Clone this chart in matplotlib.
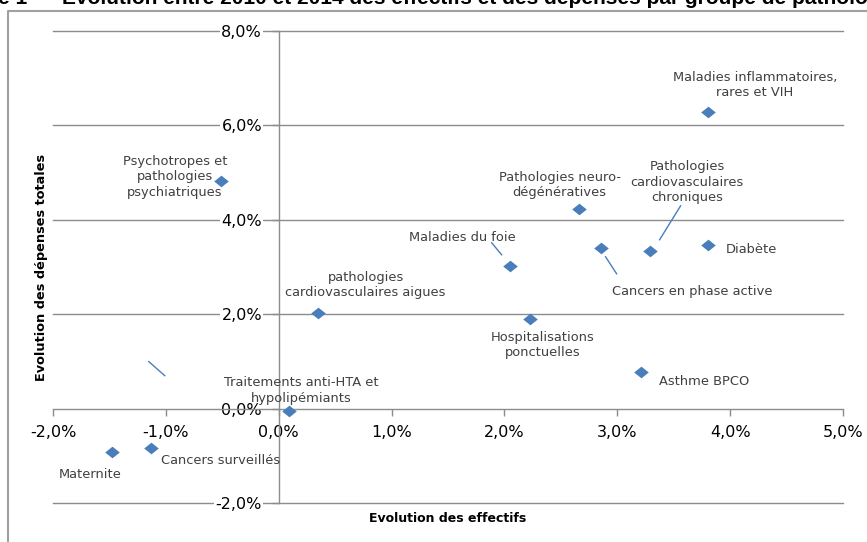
import matplotlib
matplotlib.use("Agg")
import matplotlib.pyplot as plt
import numpy as np

#######################################
#### Data
#######################################
groupes = ["Maladies inflammatoires,\nrares et VIH",
           "Psychotropes et\npathologies\npsychiatriques",
           "Pathologies neuro-\ndégénératives",
           "Pathologies\ncardiovasculaires\nchroniques",
           "Maladies du foie",
           "Diabète",
           "Cancers en phase active",
           "pathologies\ncardiovasculaires aigues",
           "Hospitalisations\nponctuelles",
           "Asthme BPCO",
           "Traitements anti-HTA et\nhypolipémiants",
           "Cancers surveillés",
           "Maternite"]
evol_effectifs = [3.80, -0.51, 2.66, 3.29, 2.05, 3.80, 2.86, 0.35, 2.23, 3.21, 0.09, -1.13, -1.48]
evol_depenses  = [6.29, 4.83, 4.23, 3.34, 3.03, 3.47, 3.41, 2.03, 1.90, 0.78, -0.06, -0.83, -0.91]
x_ticks = [-2, -1, 0, 1, 2, 3, 4, 5]
y_ticks = [-2, 0, 2, 4, 6, 8]

#######################################
#### Layout (label placement, leader lines)
#######################################
lbl_pos = [(4.22, 6.86, "center"), (-0.92, 4.91, "center"), (2.49, 4.74, "center"),
           (3.62, 4.80, "center"), (1.63, 3.62, "center"), (3.96, 3.37, "left"),
           (3.66, 2.48, "center"), (0.77, 2.62, "center"), (2.34, 1.35, "center"),
           (3.37, 0.57, "left"), (0.20, 0.38, "center"), (-1.045, -1.10, "left"),
           (-1.67, -1.40, "center")]
leaders = [((1.887, 1.975), (3.513, 3.259)),
           ((2.896, 2.994), (3.217, 2.857)),
           ((3.561, 3.375), (4.296, 3.577)),
           ((-1.151, -1.010), (0.995, 0.698))]

BLUE = "#4a7ebb"
GRID = "#8c8c8c"
FONT = "DejaVu Sans"

W, H = 867, 542
fig = plt.figure(figsize=(W/100, H/100), dpi=100)
ax = fig.add_axes([53/W, 1-503/H, (843-53)/W, (503-31)/H])
ax.set_xlim(-2, 5)
ax.set_ylim(-2, 8)

# gridlines
for yv in y_ticks:
   if yv != 0:
      ax.axhline(yv, color=GRID, lw=1.0, zorder=1, clip_on=False)

# axes through zero
for s in ["top", "right"]:
   ax.spines[s].set_visible(False)
ax.spines["left"].set_position(("data", 0))
ax.spines["bottom"].set_position(("data", 0))
for s in ["left", "bottom"]:
   ax.spines[s].set_color(GRID)
   ax.spines[s].set_linewidth(1.0)

ax.set_xticks(x_ticks)
ax.set_xticklabels([("%.1f%%" % v).replace(".", ",") for v in x_ticks])
ax.set_yticks(y_ticks)
ax.set_yticklabels([("%.1f%%" % v).replace(".", ",") for v in y_ticks])
ax.tick_params(axis="x", direction="out", length=5, color=GRID, width=1.0,
               labelsize=11.5, pad=7)
ax.tick_params(axis="y", direction="out", length=5, color=GRID, width=1.0,
               labelsize=11.5, pad=7)
for l in ax.get_xticklabels() + ax.get_yticklabels():
   l.set_fontfamily(FONT)
for l in ax.get_yticklabels():
   l.set_bbox(dict(facecolor="white", edgecolor="none", pad=1))
   l.set_zorder(5)

# points
diamond = [(-1, 0), (0, 0.8), (1, 0), (0, -0.8), (-1, 0)]
ax.plot(evol_effectifs, evol_depenses, linestyle="none", marker=diamond,
        markersize=10.5, color=BLUE, markeredgewidth=0, zorder=6, clip_on=False)

# labels
for name, (lx, ly, ha) in zip(groupes, lbl_pos):
   ax.text(lx, ly, name, ha=ha, va="center", fontsize=9.4, family=FONT,
           color="#404040", linespacing=1.25, zorder=7)
for xs, ys in leaders:
   ax.plot(xs, ys, color=BLUE, lw=1.0, zorder=4)

# axis titles
fig.text(448/W, 1-518/H, "Evolution des effectifs", ha="center", va="center",
         fontsize=9, fontweight="bold", family=FONT)
fig.text(42/W, 1-267/H, "Evolution des dépenses totales", ha="center", va="center",
         rotation=90, fontsize=9.3, fontweight="bold", family=FONT)

# chart frame
fig.add_artist(plt.Line2D([8/W, 8/W, 1.0], [0.0, 1-11/H, 1-11/H],
                          transform=fig.transFigure, color="#a0a0a0", lw=1.5))

# cropped title
fig.text(62/W, 1-4/H,
         "Evolution entre 2010 et 2014 des effectifs et des dépenses par groupe de pathologies",
         ha="left", va="baseline", fontsize=15, fontweight="bold",
         family="Liberation Sans")
fig.text(45/W, 1-4/H, "e 1 –", ha="right", va="baseline", fontsize=15,
         fontweight="bold", family="Liberation Sans")

fig.savefig("out.png", dpi=100)
